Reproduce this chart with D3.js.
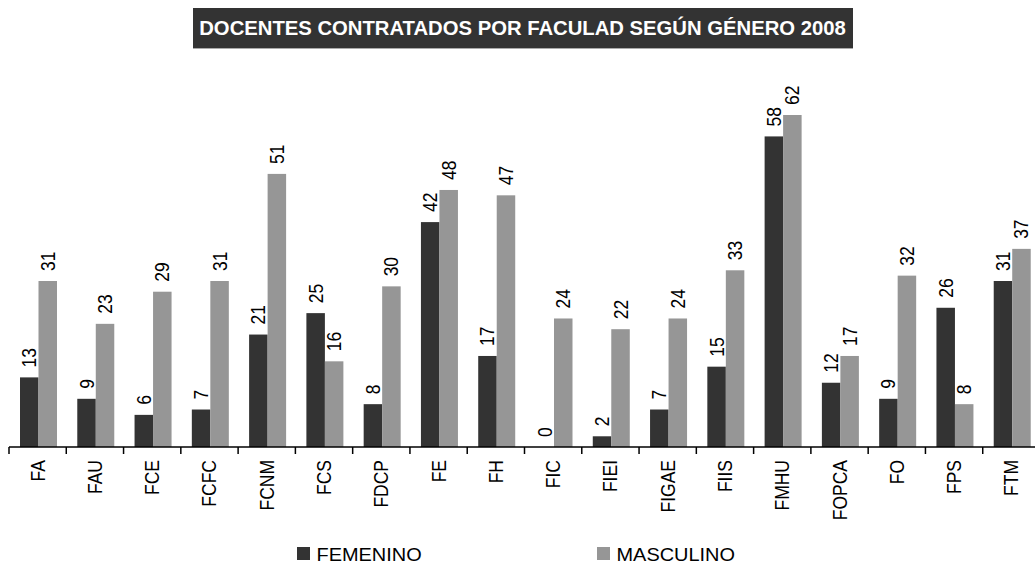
<!DOCTYPE html>
<html>
<head>
<meta charset="utf-8">
<script src="https://cdn.jsdelivr.net/npm/d3@7"></script>
<style>
  body { margin: 0; background: #fff; }
  text { font-family: "Liberation Sans", Arial, sans-serif; }
</style>
</head>
<body>
<div id="chart"></div>
<script>
// Docentes contratados por facultad, 2008
const categories = ["FA", "FAU", "FCE", "FCFC", "FCNM", "FCS", "FDCP", "FE", "FH", "FIC",
                    "FIEI", "FIGAE", "FIIS", "FMHU", "FOPCA", "FO", "FPS", "FTM"];
const femenino  = [13, 9, 6, 7, 21, 25, 8, 42, 17, 0, 2, 7, 15, 58, 12, 9, 26, 31];
const masculino = [31, 23, 29, 31, 51, 16, 30, 48, 47, 24, 22, 24, 33, 62, 17, 32, 8, 37];
const seriesNames = ["FEMENINO", "MASCULINO"];

const width = 1035, height = 568;
const colors = ["#333333", "#969696"];
const stretch = 1.18; // the original text looks a bit wide

const svg = d3.select("#chart").append("svg")
    .attr("width", width)
    .attr("height", height);

// title box
svg.append("rect")
    .attr("x", 193).attr("y", 8)
    .attr("width", 660).attr("height", 40)
    .attr("fill", "#333333");
svg.append("line")
    .attr("x1", 193).attr("x2", 853)
    .attr("y1", 48.5).attr("y2", 48.5)
    .attr("stroke", "#aaa");
svg.append("text")
    .attr("transform", "translate(522.5,35) scale(1.04,1)")
    .attr("text-anchor", "middle")
    .attr("fill", "#fff")
    .style("font-weight", "bold")
    .style("font-size", "19.5px")
    .text("DOCENTES CONTRATADOS POR FACULAD SEGÚN GÉNERO 2008");

const x = d3.scaleBand().domain(categories).range([9, 1040]);
const xs = d3.scaleBand().domain([0, 1]).range([11, 48]);
const y = d3.scaleLinear().domain([0, 62]).range([447, 115]);

const rows = categories.map((c, i) => ({ cat: c, vals: [femenino[i], masculino[i]] }));

const groups = svg.append("g").selectAll("g")
    .data(rows)
    .join("g")
    .attr("transform", d => `translate(${x(d.cat)},0)`);

groups.selectAll("rect")
    .data(d => d.vals.map((v, k) => ({ v, k })))
    .join("rect")
    .attr("x", d => xs(d.k))
    .attr("width", xs.bandwidth())
    .attr("y", d => y(d.v))
    .attr("height", d => y(0) - y(d.v))
    .attr("fill", d => colors[d.k]);

// value labels, rotated
groups.selectAll("text.val")
    .data(d => d.vals.map((v, k) => ({ v, k })))
    .join("text")
    .attr("class", "val")
    .attr("transform", d => `translate(${xs(d.k) + xs.bandwidth() / 2 + 7},${y(d.v) - 10}) scale(${stretch},1) rotate(-90)`)
    .style("font-size", "17.5px")
    .attr("fill", "#000")
    .text(d => d.v);

// x axis
const axis = svg.append("g")
    .attr("transform", `translate(0,${y(0)})`);
axis.append("line")
    .attr("x1", 9).attr("x2", width)
    .attr("stroke", "#000").attr("stroke-width", 1.5);
axis.selectAll("line.tick")
    .data(categories)
    .join("line")
    .attr("class", "tick")
    .attr("x1", d => x(d)).attr("x2", d => x(d))
    .attr("y1", 0).attr("y2", 7)
    .attr("stroke", "#000").attr("stroke-width", 1.5);
axis.selectAll("text")
    .data(categories)
    .join("text")
    .attr("transform", d => `translate(${x(d) + x.bandwidth() / 2 + 7},13) scale(${stretch},1) rotate(-90)`)
    .attr("text-anchor", "end")
    .style("font-size", "17.5px")
    .text(d => d);

// legend
const legend = svg.append("g")
    .selectAll("g")
    .data(seriesNames)
    .join("g")
    .attr("transform", (d, i) => `translate(${i === 0 ? 297 : 597},547)`);
legend.append("rect")
    .attr("width", 13).attr("height", 13)
    .attr("fill", (d, i) => colors[i]);
legend.append("text")
    .attr("transform", "translate(19.5,14) scale(1.14,1)")
    .style("font-size", "17.5px")
    .text(d => d);
</script>
</body>
</html>
